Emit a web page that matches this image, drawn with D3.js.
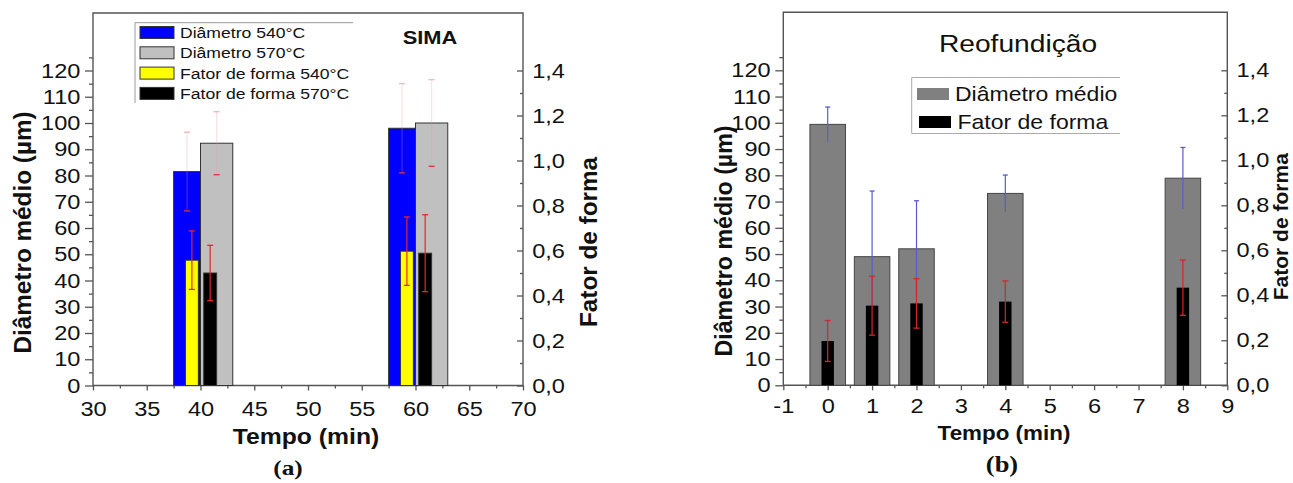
<!DOCTYPE html>
<html>
<head>
<meta charset="utf-8">
<script src="https://cdn.jsdelivr.net/npm/d3@7/dist/d3.min.js"></script>
<style>
  body { margin: 0; background: #fff; }
  svg { display: block; }
  text { font-family: "Liberation Sans", Arial, sans-serif; fill: #111; }
</style>
</head>
<body>
<div id="chart"></div>
<script>
// ---- data: (a) SIMA ----
var simaTimes = [40, 60];
var simaDiam540 = [81.5, 98.0];
var simaDiam540Err = [15, 17];
var simaDiam570 = [92.3, 100.0];
var simaDiam570Err = [12, 16.5];
var simaFF540 = [0.557, 0.597];
var simaFF540Err = [0.13, 0.152];
var simaFF570 = [0.50, 0.588];
var simaFF570Err = [0.123, 0.171];
var simaXTicks = [30, 35, 40, 45, 50, 55, 60, 65, 70];

// ---- data: (b) Reofundição ----
var reoTimes = [0, 1, 2, 4, 8];
var reoDiam = [99.4, 49.0, 52.0, 73.1, 78.9];
var reoDiamErr = [6.6, 25, 18.3, 7, 11.7];
var reoFF = [0.197, 0.354, 0.364, 0.372, 0.434];
var reoFFErr = [0.091, 0.131, 0.11, 0.092, 0.123];
var reoXTicks = [-1, 0, 1, 2, 3, 4, 5, 6, 7, 8, 9];

// shared axes
var diamTicks = [0, 10, 20, 30, 40, 50, 60, 70, 80, 90, 100, 110, 120];
var ffTicks = [0, 0.2, 0.4, 0.6, 0.8, 1.0, 1.2, 1.4];

var SX = 1.15; // the original image is slightly stretched horizontally
var AXIS = "#555";

var svg = d3.select("#chart").append("svg")
    .attr("width", 1293)
    .attr("height", 483);

function label(g, x, y, s, size, opt) {
    opt = opt || {};
    var t = g.append("text")
        .attr("transform", "translate(" + x + "," + y + ")" + (opt.rotate ? " rotate(-90)" : " scale(" + SX + ",1)"))
        .attr("text-anchor", opt.anchor || "start")
        .style("font-size", size + "px")
        .text(s);
    if (opt.bold) t.style("font-weight", "bold");
    if (opt.family) t.style("font-family", opt.family);
    return t;
}

function axes(cfg) {
    var g = svg.append("g");
    var x = d3.scaleLinear().domain(cfg.xDomain).range([cfg.left, cfg.right]);
    var yL = d3.scaleLinear().domain([0, 120]).range([cfg.bottom, cfg.y120]);
    var yR = d3.scaleLinear().domain([0, 1.4]).range([cfg.bottom, cfg.y120]);

    var step = cfg.xTicks[1] - cfg.xTicks[0];
    var xMinor = cfg.xTicks.slice(0, -1).map(function (d) { return d + step / 2; });
    var lMinor = diamTicks.map(function (d) { return d + 5; });
    var rMinor = ffTicks.slice(0, -1).map(function (d) { return d + 0.1; });

    // minor ticks
    g.append("g").attr("transform", "translate(0," + cfg.bottom + ")")
        .call(d3.axisBottom(x).tickValues(xMinor).tickSize(3).tickFormat(""));
    g.append("g").attr("transform", "translate(" + cfg.left + ",0)")
        .call(d3.axisLeft(yL).tickValues(lMinor).tickSize(4).tickFormat(""));
    g.append("g").attr("transform", "translate(" + cfg.right + ",0)")
        .call(d3.axisRight(yR).tickValues(rMinor).tickSize(-3).tickFormat(""));

    // major ticks
    var xa = g.append("g").attr("transform", "translate(0," + cfg.bottom + ")")
        .call(d3.axisBottom(x).tickValues(cfg.xTicks).tickSize(5).tickPadding(cfg.xPad)
            .tickFormat(function (d) { return d < 0 ? "-" + Math.abs(d) : d; }));
    var la = g.append("g").attr("transform", "translate(" + cfg.left + ",0)")
        .call(d3.axisLeft(yL).tickValues(diamTicks).tickSize(8).tickPadding(3));
    var ra = g.append("g").attr("transform", "translate(" + cfg.right + ",0)")
        .call(d3.axisRight(yR).tickValues(ffTicks).tickSize(-6).tickPadding(8)
            .tickFormat(function (d) { return d3.format(".1f")(d).replace(".", ","); }));

    g.selectAll(".domain").remove();
    g.selectAll(".tick line").attr("stroke", AXIS).attr("stroke-width", 1.3);
    [xa, la, ra].forEach(function (a) {
        a.selectAll("text")
            .attr("transform", "scale(" + SX + ",1)")
            .style("font-size", "20.5px")
            .style("font-family", "'Liberation Sans', Arial, sans-serif")
            .attr("fill", "#111");
    });

    // frame
    g.append("path")
        .attr("d", "M" + cfg.left + "," + cfg.bottom + "V" + cfg.top + "H" + cfg.right + "V" + cfg.bottom + "Z")
        .attr("fill", "none")
        .attr("stroke", AXIS)
        .attr("stroke-width", 1.4);

    return { x: x, yL: yL, yR: yR, g: g };
}

function errBar(g, cx, yHi, yLo, cap, lineColor, hiCap, loCap) {
    g.append("line").attr("x1", cx).attr("x2", cx).attr("y1", yHi).attr("y2", yLo)
        .attr("stroke", lineColor).attr("stroke-width", 1.2);
    g.append("line").attr("x1", cx - cap).attr("x2", cx + cap).attr("y1", yHi).attr("y2", yHi)
        .attr("stroke", hiCap).attr("stroke-width", 1.3);
    if (loCap) g.append("line").attr("x1", cx - cap).attr("x2", cx + cap).attr("y1", yLo).attr("y2", yLo)
        .attr("stroke", loCap).attr("stroke-width", 1.3);
}

// ================= (a) SIMA =================
var A = axes({ xDomain: [30, 70], left: 93, right: 523, top: 13, bottom: 385.5, y120: 70.5,
    xTicks: simaXTicks, xPad: 11 });

var barsA = A.g.append("g");
// offsets (min) of each series relative to the time
var seriesA = [
    { vals: simaDiam540, err: simaDiam540Err, axis: "L", x0: -2.5, x1: 0, fill: "#0000ff" },
    { vals: simaDiam570, err: simaDiam570Err, axis: "L", x0: 0, x1: 3, fill: "#c0c0c0" },
    { vals: simaFF540, err: simaFF540Err, axis: "R", x0: -1.4, x1: -0.2, fill: "#ffff00" },
    { vals: simaFF570, err: simaFF570Err, axis: "R", x0: 0.3, x1: 1.5, fill: "#000000" }
];
seriesA.forEach(function (s) {
    var y = s.axis === "L" ? A.yL : A.yR;
    barsA.selectAll(null).data(simaTimes).enter().append("rect")
        .attr("x", function (t) { return A.x(t + s.x0); })
        .attr("width", function (t) { return A.x(t + s.x1) - A.x(t + s.x0); })
        .attr("y", function (t, i) { return y(s.vals[i]); })
        .attr("height", function (t, i) { return y(0) - y(s.vals[i]); })
        .attr("fill", s.fill)
        .attr("stroke", "#333")
        .attr("stroke-width", 1);
});
seriesA.forEach(function (s) {
    var y = s.axis === "L" ? A.yL : A.yR;
    simaTimes.forEach(function (t, i) {
        var cx = A.x(t + (s.x0 + s.x1) / 2);
        if (s.axis === "L") {
            errBar(barsA, cx, y(s.vals[i] + s.err[i]), y(s.vals[i] - s.err[i]), 3,
                "rgba(240,150,160,0.28)", "#f4b4b8", "#e0303a");
        } else {
            errBar(barsA, cx, y(s.vals[i] + s.err[i]), y(s.vals[i] - s.err[i]), 3,
                "#e02828", "#e02828", "#e02828");
        }
    });
});

// legend (a)
var legA = svg.append("g");
legA.append("path").attr("d", "M135,103V22.7H353").attr("fill", "none").attr("stroke", "#999").attr("stroke-width", 1);
var legAItems = [
    { name: "Diâmetro 540°C", fill: "#0000ff" },
    { name: "Diâmetro 570°C", fill: "#c0c0c0" },
    { name: "Fator de forma 540°C", fill: "#ffff00" },
    { name: "Fator de forma 570°C", fill: "#000000" }
];
legAItems.forEach(function (d, i) {
    var cy = 32.5 + i * 20.3;
    legA.append("rect").attr("x", 140).attr("y", cy - 6).attr("width", 34).attr("height", 12)
        .attr("fill", d.fill).attr("stroke", "#333").attr("stroke-width", 1);
    label(legA, 180, cy + 5.5, d.name, 15.3);
});

label(svg, 430, 44, "SIMA", 19, { bold: true, anchor: "middle" });
label(svg, 306, 444, "Tempo (min)", 21.5, { bold: true, anchor: "middle" });
label(svg, 30.6, 232.5, "Diâmetro médio (µm)", 24.3, { bold: true, anchor: "middle", rotate: true });
label(svg, 597, 242, "Fator de forma", 24.3, { bold: true, anchor: "middle", rotate: true });
label(svg, 288, 475, "(a)", 22, { bold: true, anchor: "middle", family: "'Liberation Serif', 'Times New Roman', serif" });

// ================= (b) Reofundição =================
var B = axes({ xDomain: [-1, 9], left: 783.3, right: 1227.3, top: 12.3, bottom: 385.3, y120: 70.3,
    xTicks: reoXTicks, xPad: 8 });

var barsB = B.g.append("g");
barsB.selectAll(null).data(reoTimes).enter().append("rect")
    .attr("x", function (t) { return B.x(t - 0.4); })
    .attr("width", function (t) { return B.x(t + 0.4) - B.x(t - 0.4); })
    .attr("y", function (t, i) { return B.yL(reoDiam[i]); })
    .attr("height", function (t, i) { return B.yL(0) - B.yL(reoDiam[i]); })
    .attr("fill", "#808080")
    .attr("stroke", "#444")
    .attr("stroke-width", 1);
reoTimes.forEach(function (t, i) {
    errBar(barsB, B.x(t), B.yL(reoDiam[i] + reoDiamErr[i]), B.yL(reoDiam[i] - reoDiamErr[i]), 2.5,
        "#5a5ad0", "#5a5ad0", null);
});
barsB.selectAll(null).data(reoTimes).enter().append("rect")
    .attr("x", function (t) { return B.x(t - 0.14); })
    .attr("width", function (t) { return B.x(t + 0.14) - B.x(t - 0.14); })
    .attr("y", function (t, i) { return B.yR(reoFF[i]); })
    .attr("height", function (t, i) { return B.yR(0) - B.yR(reoFF[i]); })
    .attr("fill", "#000");
reoTimes.forEach(function (t, i) {
    errBar(barsB, B.x(t), B.yR(reoFF[i] + reoFFErr[i]), B.yR(reoFF[i] - reoFFErr[i]), 3,
        "#d02828", "#d02828", "#d02828");
});

// legend (b)
var legB = svg.append("g");
legB.append("path").attr("d", "M1120,77.5H911.7V133.5H1120").attr("fill", "none").attr("stroke", "#aaa").attr("stroke-width", 1);
var legBItems = [
    { name: "Diâmetro médio", fill: "#808080" },
    { name: "Fator de forma", fill: "#000000" }
];
legBItems.forEach(function (d, i) {
    var cy = 94 + i * 28;
    legB.append("rect").attr("x", 917 + i * 2).attr("y", cy - 6).attr("width", 32).attr("height", 12)
        .attr("fill", d.fill);
    label(legB, 955 + i * 2.5, cy + 7.3, d.name, 20);
});

label(svg, 1018, 51.7, "Reofundição", 24.5, { anchor: "middle" });
label(svg, 1004, 440, "Tempo (min)", 19.5, { bold: true, anchor: "middle" });
label(svg, 731.7, 241, "Diâmetro médio (µm)", 23.2, { bold: true, anchor: "middle", rotate: true });
label(svg, 1288, 226.7, "Fator de forma", 21, { bold: true, anchor: "middle", rotate: true });
label(svg, 1002, 472, "(b)", 23, { bold: true, anchor: "middle", family: "'Liberation Serif', 'Times New Roman', serif" });
</script>
</body>
</html>
